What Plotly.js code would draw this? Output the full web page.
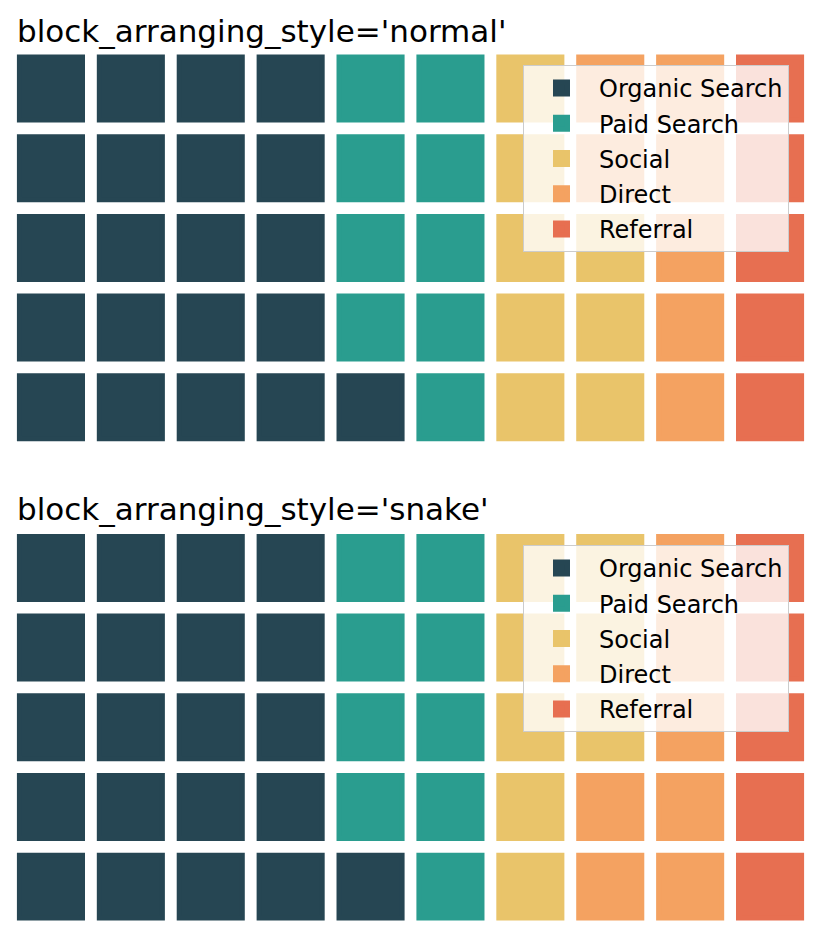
<!DOCTYPE html>
<html>
<head>
<meta charset="utf-8">
<script src="https://cdn.plot.ly/plotly-3.0.1.min.js"></script>
<style>
  html, body { margin: 0; padding: 0; background: #fff; }
  #chart { width: 821px; height: 938px; }
</style>
</head>
<body>
<div id="chart"></div>
<script>
const categories = ['Organic Search', 'Paid Search', 'Social', 'Direct', 'Referral'];
const values = [21, 9, 8, 7, 5];
const colors = ['#264653', '#2a9d8f', '#e9c46a', '#f4a261', '#e76f51'];
const nRows = 5;
const nCols = 10;
const styles = ['normal', 'snake'];

// block fill size in axis units; the same-colour outline adds the rest
const edge = 5;
const blockW = 63 / 79.8;
const blockH = 63 / 79.7;

// walk the grid column by column, from the bottom up
function cellsFor(style) {
  const cells = categories.map(() => ({ x: [], base: [] }));
  let i = 0;
  values.forEach((v, k) => {
    for (let n = 0; n < v; n += 1) {
      const col = Math.floor(i / nRows);
      let row = i % nRows;
      if (style === 'snake' && col % 2 === 1) row = nRows - 1 - row;
      cells[k].x.push(col);
      cells[k].base.push(row - blockH / 2);
      i += 1;
    }
  });
  return cells;
}

const traces = [];
styles.forEach((style, s) => {
  const cells = cellsFor(style);
  categories.forEach((name, k) => {
    traces.push({
      type: 'bar',
      name: name,
      x: cells[k].x,
      y: cells[k].x.map(() => blockH),
      base: cells[k].base,
      width: blockW,
      marker: { color: colors[k], line: { width: edge, color: colors[k] } },
      xaxis: s === 0 ? 'x' : 'x2',
      yaxis: s === 0 ? 'y' : 'y2',
      legend: s === 0 ? 'legend' : 'legend2',
      legendgroup: style + k,
      hoverinfo: 'skip',
    });
  });
});

const hiddenAxis = { visible: false, fixedrange: true, range: [-0.5, nCols - 0.5] };
const legendStyle = {
  x: 0.6408,
  xanchor: 'left',
  yanchor: 'top',
  bgcolor: 'rgba(255,255,255,0.8)',
  bordercolor: '#cccccc',
  borderwidth: 1,
  font: { family: 'DejaVu Sans', size: 24, color: '#000' },
  traceorder: 'grouped',
  tracegroupgap: 1,
  itemwidth: 65,
};

const layout = {
  width: 821,
  height: 938,
  margin: { l: 11, r: 11, t: 0, b: 0 },
  paper_bgcolor: '#fff',
  plot_bgcolor: 'rgba(0,0,0,0)',
  barmode: 'overlay',
  font: { family: 'DejaVu Sans', color: '#000' },
  xaxis: { ...hiddenAxis, domain: [0, 1] },
  yaxis: { visible: false, fixedrange: true, range: [-0.5, nRows - 0.5], domain: [0.5233, 0.9481] },
  xaxis2: { ...hiddenAxis, domain: [0, 1], anchor: 'y2' },
  yaxis2: { visible: false, fixedrange: true, range: [-0.5, nRows - 0.5], domain: [0.0123, 0.4370], anchor: 'x2' },
  legend: { ...legendStyle, y: 0.9307 },
  legend2: { ...legendStyle, y: 0.4190 },
  annotations: [
    { text: "block_arranging_style='normal'", xref: 'paper', yref: 'paper', x: 0.005, y: 0.967, xanchor: 'left', yanchor: 'middle', showarrow: false, font: { size: 31 } },
    { text: "block_arranging_style='snake'", xref: 'paper', yref: 'paper', x: 0.005, y: 0.4574, xanchor: 'left', yanchor: 'middle', showarrow: false, font: { size: 31 } },
  ],
};

Plotly.newPlot('chart', traces, layout, { displayModeBar: false, staticPlot: true });
</script>
</body>
</html>
